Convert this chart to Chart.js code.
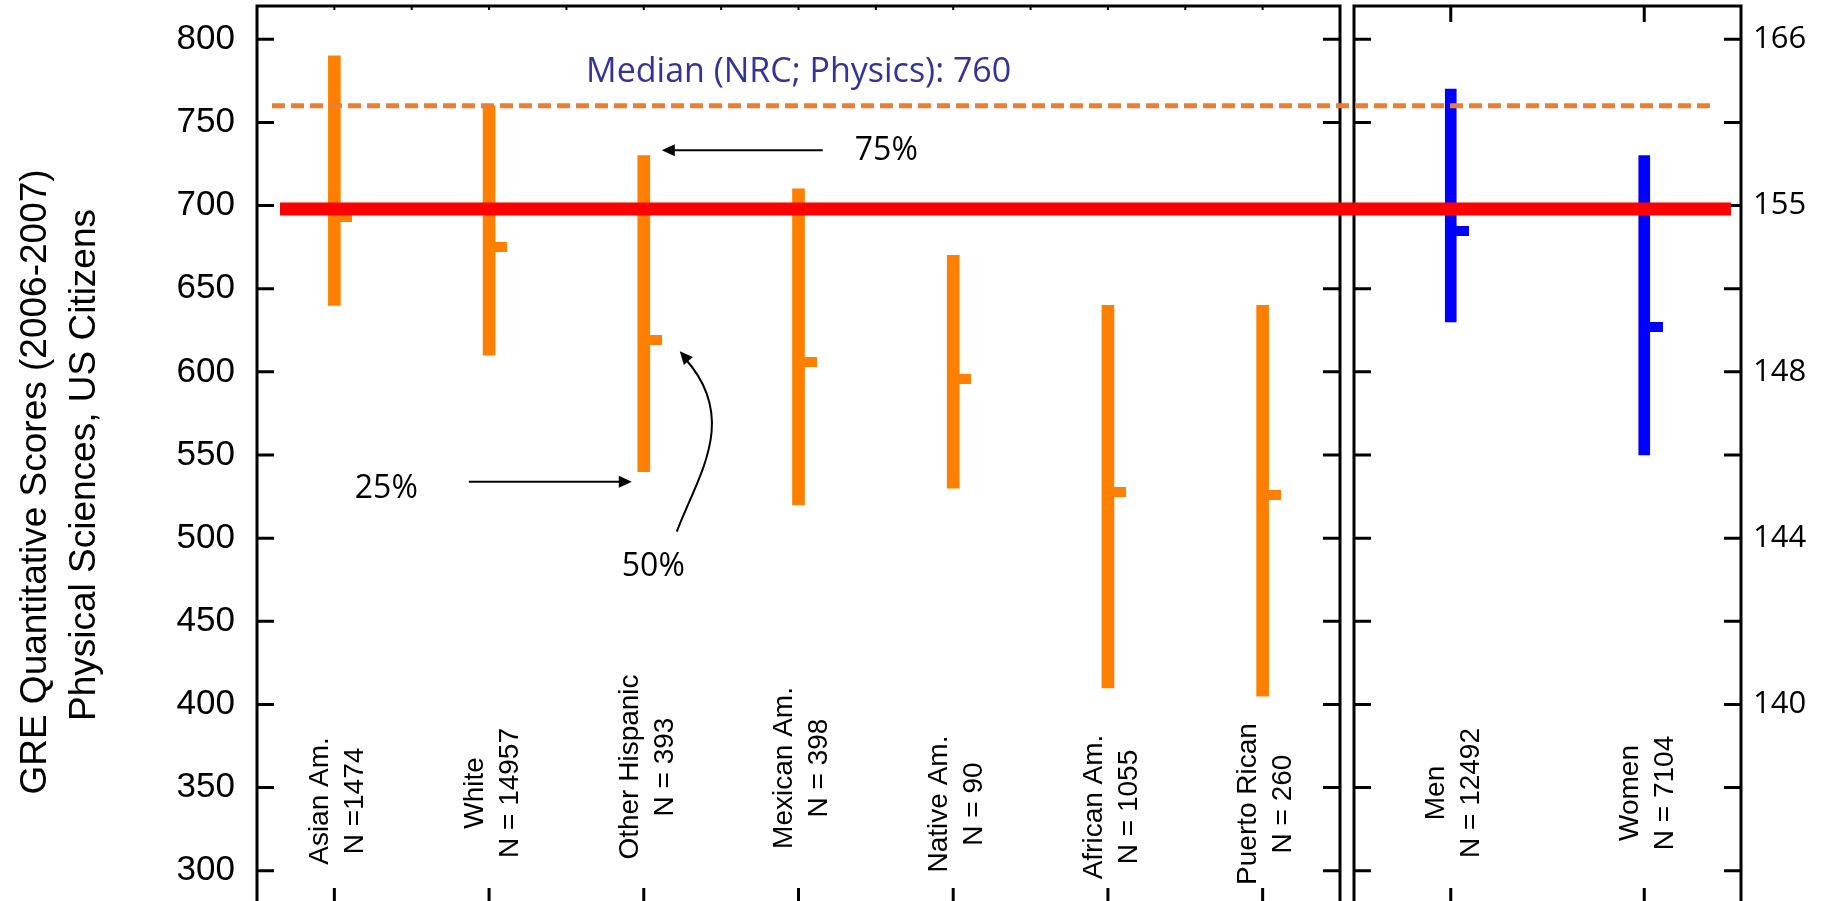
<!DOCTYPE html>
<html>
<head>
<meta charset="utf-8">
<script src="https://cdn.jsdelivr.net/npm/chart.js@4.4.0/dist/chart.umd.min.js"></script>
<style>
  html, body { margin: 0; padding: 0; background: #fff; overflow: hidden; width: 1825px; height: 901px; }
  #wrap { position: relative; width: 1825px; height: 901px; overflow: hidden; background: #fff; }
  #wrap canvas { position: absolute; top: 0; }
  #ethnic { left: 0; }
  #gender { left: 1347px; }
</style>
</head>
<body>
<div id="wrap">
  <canvas id="ethnic" width="1347" height="960"></canvas>
  <canvas id="gender" width="478" height="960"></canvas>
</div>
<script>
// GRE quantitative score quartiles, physical sciences, US citizens (2006-2007)
const groups       = ['Asian Am.', 'White', 'Other Hispanic', 'Mexican Am.', 'Native Am.', 'African Am.', 'Puerto Rican'];
const groupCounts  = ['N =1474', 'N = 14957', 'N = 393', 'N = 398', 'N = 90', 'N = 1055', 'N = 260'];
const groupQ1      = [640, 610, 540, 520, 530, 410, 405];
const groupMedian  = [693, 675, 619, 606, 596, 528, 526];
const groupQ3      = [790, 760, 730, 710, 670, 640, 640];

const sexes        = ['Men', 'Women'];
const sexCounts    = ['N = 12492', 'N = 7104'];
const sexQ1        = [630, 550];
const sexMedian    = [685, 627];
const sexQ3        = [770, 730];

// old-scale score ticks and their equivalents on the new GRE scale
const oldScoreMarks = [800, 700, 600, 500, 400];
const newScoreMarks = ['166', '155', '148', '144', '140'];

const physicsMedian = 760;   // NRC median for physics programs
const cutoffScore   = 698;   // red reference line

const Y_MIN = 280, Y_MAX = 820, Y_STEP = 50;

const ORANGE = '#FF8000';
const BLUE = '#0000FF';

// marker for the median: a short stub sticking out to the right of the bar
function medianStub(color, barHalf, stubLen, stubH) {
  const c = document.createElement('canvas');
  const half = barHalf + stubLen;
  c.width = half * 2;
  c.height = stubH;
  const g = c.getContext('2d');
  g.fillStyle = color;
  g.fillRect(half + barHalf - 1, 0, stubLen + 1, stubH);
  return c;
}

// force an exact axis width and no extra vertical padding
function lockAxis(width) {
  return (scale) => {
    scale.width = width;
    scale.paddingTop = 0;
    scale.paddingBottom = 0;
  };
}

// black frame with inward tick marks
const framePlugin = {
  id: 'frame',
  afterDatasetsDraw(chart, args, opts) {
    const { ctx, chartArea: a, scales: { x, y } } = chart;
    const n = chart.data.labels.length;
    ctx.save();
    ctx.strokeStyle = '#000';
    ctx.lineCap = 'butt';
    ctx.lineWidth = 3;
    ctx.beginPath();
    for (const t of y.ticks) {
      const py = y.getPixelForValue(t.value);
      ctx.moveTo(a.left, py); ctx.lineTo(a.left + 17, py);
      ctx.moveTo(a.right, py); ctx.lineTo(a.right - 17, py);
    }
    for (let i = 0; i < n; i++) {
      const px = x.getPixelForValue(i);
      ctx.moveTo(px, a.bottom); ctx.lineTo(px, a.bottom - 16);
      if (!opts.minorTop) { ctx.moveTo(px, a.top); ctx.lineTo(px, a.top + 16); }
    }
    ctx.stroke();
    if (opts.minorTop) {
      ctx.lineWidth = 2;
      ctx.beginPath();
      for (let k = 1; k < 2 * n; k++) {
        const px = x.getPixelForValue(k / 2 - 0.5);
        ctx.moveTo(px, a.top); ctx.lineTo(px, a.top + 4);
      }
      ctx.stroke();
    }
    ctx.lineWidth = 3;
    ctx.strokeRect(a.left, a.top, a.right - a.left, a.bottom - a.top);
    ctx.restore();
  }
};

// horizontal reference lines running across both panels
let ethnicChart = null;
const refLinePlugin = {
  id: 'refLines',
  afterDatasetsDraw(chart, args, opts) {
    const { ctx, chartArea: a, scales: { y } } = chart;
    let dashFrom, dashTo, redFrom, redTo, dashOffset = 0;
    if (opts.side === 'left') {
      dashFrom = a.left + 15; dashTo = chart.width;
      redFrom = a.left + 23; redTo = chart.width;
    } else {
      dashFrom = 0; dashTo = a.right - 28;
      redFrom = 0; redTo = a.right - 10;
      const la = ethnicChart.chartArea;
      dashOffset = ethnicChart.width - (la.left + 15);
    }
    ctx.save();
    const yd = y.getPixelForValue(physicsMedian);
    ctx.strokeStyle = '#ED7D31';
    ctx.lineWidth = 5;
    ctx.setLineDash([13, 6]);
    ctx.lineDashOffset = dashOffset;
    ctx.beginPath(); ctx.moveTo(dashFrom, yd); ctx.lineTo(dashTo, yd); ctx.stroke();
    ctx.setLineDash([]);
    const yr = y.getPixelForValue(cutoffScore);
    ctx.strokeStyle = '#FF0000';
    ctx.lineWidth = 13;
    ctx.beginPath(); ctx.moveTo(redFrom, yr); ctx.lineTo(redTo, yr); ctx.stroke();
    ctx.restore();
  }
};

// rotated two-line category labels inside the plot
const categoryLabelPlugin = {
  id: 'categoryLabels',
  afterDatasetsDraw(chart, args, opts) {
    const { ctx, chartArea: a, scales: { x } } = chart;
    ctx.save();
    ctx.fillStyle = '#000';
    ctx.font = '28px "Liberation Sans", Arial, sans-serif';
    ctx.textAlign = 'center';
    ctx.textBaseline = 'middle';
    chart.data.labels.forEach((name, i) => {
      const px = x.getPixelForValue(i) + 3;
      const py = a.bottom - opts.raise[i];
      ctx.save();
      ctx.translate(px, py);
      ctx.rotate(-Math.PI / 2);
      ctx.fillText(name, 0, -17);
      ctx.fillText(opts.counts[i], 0, 18);
      ctx.restore();
    });
    ctx.restore();
  }
};

function arrowHead(ctx, tipX, tipY, dx, dy) {
  const len = Math.hypot(dx, dy);
  const ux = dx / len, uy = dy / len;
  const L = 13, W = 6;
  ctx.beginPath();
  ctx.moveTo(tipX, tipY);
  ctx.lineTo(tipX - ux * L - uy * W, tipY - uy * L + ux * W);
  ctx.lineTo(tipX - ux * L + uy * W, tipY - uy * L - ux * W);
  ctx.closePath();
  ctx.fill();
}

// axis title and the quartile annotations around "Other Hispanic"
const notesPlugin = {
  id: 'notes',
  afterDraw(chart) {
    const { ctx, chartArea: a, scales: { x, y } } = chart;
    ctx.save();
    // y-axis title
    ctx.fillStyle = '#000';
    ctx.font = '37px "Liberation Sans", Arial, sans-serif';
    ctx.textAlign = 'center';
    ctx.textBaseline = 'alphabetic';
    const midY = (a.top + a.bottom) / 2;
    ctx.save();
    ctx.translate(46, midY + 27);
    ctx.rotate(-Math.PI / 2);
    ctx.fillText('GRE Quantitative Scores (2006-2007)', 0, 0);
    ctx.restore();
    ctx.save();
    ctx.translate(95, midY + 10);
    ctx.rotate(-Math.PI / 2);
    ctx.fillText('Physical Sciences, US Citizens', 0, 0);
    ctx.restore();

    // NRC median label
    ctx.textAlign = 'left';
    ctx.fillStyle = '#333399';
    ctx.font = '34px "Open Sans", sans-serif';
    ctx.fillText('Median (NRC; Physics): 760', x.getPixelForValue(1) + 97, y.getPixelForValue(physicsMedian) - 24);

    // quartile call-outs on the third group
    const k = 2;
    const cx = x.getPixelForValue(k);
    const yTop = y.getPixelForValue(groupQ3[k]);
    const yBot = y.getPixelForValue(groupQ1[k]);
    const yMed = y.getPixelForValue(groupMedian[k]);
    ctx.fillStyle = '#000';
    ctx.strokeStyle = '#000';
    ctx.lineWidth = 2;
    ctx.font = '32px "Open Sans", sans-serif';

    // 75%
    let ay = yTop - 5.5;
    ctx.beginPath(); ctx.moveTo(cx + 179, ay); ctx.lineTo(cx + 28, ay); ctx.stroke();
    arrowHead(ctx, cx + 18, ay, -1, 0);
    ctx.fillText('75%', cx + 211, yTop + 4);

    // 25%
    ay = yBot + 10;
    ctx.beginPath(); ctx.moveTo(cx - 175, ay); ctx.lineTo(cx - 22, ay); ctx.stroke();
    arrowHead(ctx, cx - 12, ay, 1, 0);
    ctx.fillText('25%', cx - 289, yBot + 26);

    // 50%
    const sx = cx + 33, sy = yBot + 60;
    const c1x = cx + 54, c1y = yBot + 4;
    const c2x = cx + 96, c2y = yMed + 79;
    const ex = cx + 36, ey = yMed + 11;
    ctx.beginPath();
    ctx.moveTo(sx, sy);
    ctx.bezierCurveTo(c1x, c1y, c2x, c2y, ex + 5, ey + 7);
    ctx.stroke();
    arrowHead(ctx, ex, ey, ex - c2x, ey - c2y);
    ctx.fillText('50%', cx - 22, yBot + 104);
    ctx.restore();
  }
};

function baseOptions(axisWidth, padding, yAxis) {
  return {
    responsive: false,
    devicePixelRatio: 1,
    animation: false,
    events: [],
    layout: { padding },
    plugins: { legend: { display: false }, tooltip: { enabled: false } },
    scales: {
      x: { type: 'category', display: false, offset: true },
      y: Object.assign({
        type: 'linear',
        min: Y_MIN,
        max: Y_MAX,
        grid: { display: false, drawTicks: false },
        border: { display: false },
        afterFit: lockAxis(axisWidth)
      }, yAxis)
    }
  };
}

const ethnicOpts = baseOptions(257, { left: 0, top: 6, right: 7, bottom: 56 }, {
  position: 'left',
  ticks: {
    stepSize: Y_STEP,
    includeBounds: false,
    padding: 22,
    color: '#000',
    font: { family: '"Liberation Sans", Arial, sans-serif', size: 35 }
  }
});
ethnicOpts.plugins.frame = { minorTop: true };
ethnicOpts.plugins.refLines = { side: 'left' };
ethnicOpts.plugins.categoryLabels = { counts: groupCounts, raise: [103, 111, 137, 136, 100, 97, 100] };

ethnicChart = new Chart(document.getElementById('ethnic'), {
  type: 'bar',
  data: {
    labels: groups,
    datasets: [
      {
        type: 'line',
        data: groupMedian,
        showLine: false,
        pointStyle: medianStub(ORANGE, 6, 12, 10),
        pointRadius: 3,
        order: 0
      },
      {
        data: groups.map((_, i) => [groupQ1[i], groupQ3[i]]),
        backgroundColor: ORANGE,
        borderWidth: 0,
        barThickness: 12,
        order: 1
      }
    ]
  },
  options: ethnicOpts,
  plugins: [framePlugin, refLinePlugin, categoryLabelPlugin, notesPlugin]
});

const genderOpts = baseOptions(84, { left: 7, top: 6, right: 0, bottom: 56 }, {
  position: 'right',
  ticks: {
    stepSize: Y_STEP,
    includeBounds: false,
    padding: 12,
    color: '#000',
    font: { family: '"Open Sans", sans-serif', size: 31 },
    callback: (v) => {
      const k = oldScoreMarks.indexOf(v);
      return k >= 0 ? newScoreMarks[k] : '';
    }
  }
});
genderOpts.plugins.frame = { minorTop: false };
genderOpts.plugins.refLines = { side: 'right' };
genderOpts.plugins.categoryLabels = { counts: sexCounts, raise: [111, 111] };

new Chart(document.getElementById('gender'), {
  type: 'bar',
  data: {
    labels: sexes,
    datasets: [
      {
        type: 'line',
        data: sexMedian,
        showLine: false,
        pointStyle: medianStub(BLUE, 5.5, 13, 10),
        pointRadius: 3,
        order: 0
      },
      {
        data: sexes.map((_, i) => [sexQ1[i], sexQ3[i]]),
        backgroundColor: BLUE,
        borderWidth: 0,
        barThickness: 11,
        order: 1
      }
    ]
  },
  options: genderOpts,
  plugins: [framePlugin, refLinePlugin, categoryLabelPlugin]
});
</script>
</body>
</html>
